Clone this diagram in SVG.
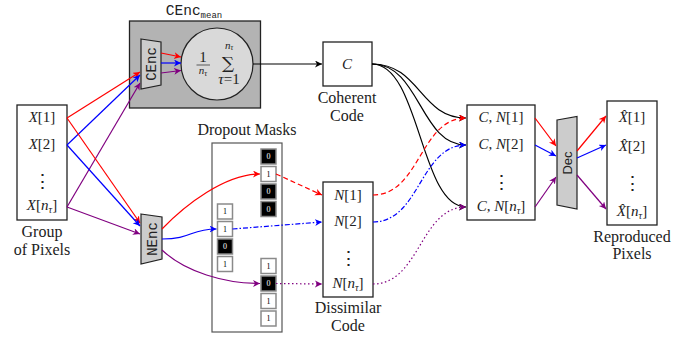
<svg xmlns="http://www.w3.org/2000/svg" width="697" height="339" viewBox="0 0 697 339">
<defs>
<style>
.box{fill:#fff;stroke:#222;stroke-width:1.3}
.t{font-family:"Liberation Serif","DejaVu Serif",serif;font-size:15px;text-anchor:middle;fill:#222}
.lb{font-size:16px}
.it{font-style:italic}
.sub{font-style:italic;font-size:10px}
.mono{font-family:"Liberation Mono","DejaVu Sans Mono",monospace;text-anchor:middle;fill:#222}
.ln{fill:none;stroke-width:1.2}
.r{stroke:#f00}.b{stroke:#00f}.p{stroke:#800080}.k{stroke:#000}
.dash{stroke-dasharray:5 3}
.dashdot{stroke-dasharray:5 2 1.5 2}
.dot{stroke-dasharray:1.5 2.5}
.c1{fill:#fff;stroke:#8a8a8a;stroke-width:1.5}
.c0{fill:#000;stroke:#8a8a8a;stroke-width:1.5}
.ct1{font-family:"Liberation Serif",serif;font-size:8px;text-anchor:middle;fill:#000}
.ct0{font-family:"Liberation Serif",serif;font-size:8px;text-anchor:middle;fill:#fff}
.trap{fill:#ccc;stroke:#222;stroke-width:1.2}
.dots{font-family:"DejaVu Serif",serif;font-size:19px;text-anchor:middle;fill:#222}
</style>
<marker id="ar" markerWidth="8" markerHeight="8" refX="7" refY="3.5" orient="auto" markerUnits="userSpaceOnUse"><path d="M0,0 L7,3.5 L0,7 L2,3.5 z" fill="#f00"/></marker>
<marker id="ab" markerWidth="8" markerHeight="8" refX="7" refY="3.5" orient="auto" markerUnits="userSpaceOnUse"><path d="M0,0 L7,3.5 L0,7 L2,3.5 z" fill="#00f"/></marker>
<marker id="ap" markerWidth="8" markerHeight="8" refX="7" refY="3.5" orient="auto" markerUnits="userSpaceOnUse"><path d="M0,0 L7,3.5 L0,7 L2,3.5 z" fill="#800080"/></marker>
<marker id="ak" markerWidth="8" markerHeight="8" refX="7" refY="3.5" orient="auto" markerUnits="userSpaceOnUse"><path d="M0,0 L7,3.5 L0,7 L2,3.5 z" fill="#000"/></marker>
</defs>
<rect width="697" height="339" fill="#fff"/>

<g id="group-of-pixels">
<rect class="box" x="17" y="105" width="50" height="115"/>
<text class="t" x="42" y="122"><tspan class="it">X</tspan>[1]</text>
<text class="t" x="42" y="149"><tspan class="it">X</tspan>[2]</text>
<text class="dots" x="42" y="188">⋮</text>
<text class="t" x="42" y="210"><tspan class="it">X</tspan>[<tspan class="it">n</tspan><tspan class="sub" dy="3">τ</tspan><tspan dy="-3">]</tspan></text>
<text class="t lb" x="42" y="237">Group</text>
<text class="t lb" x="42" y="255">of Pixels</text>
</g>

<g id="cenc-mean">
<rect x="129.5" y="21" width="131" height="87" fill="#b3b3b3" stroke="#222" stroke-width="1.3"/>
<text class="mono" x="194" y="15" font-size="14.5">CEnc<tspan font-size="9" dy="3">mean</tspan></text>
<polygon class="trap" points="141,39 161,42 161,85 141,89"/>
<text class="mono" font-size="14" transform="translate(155.5,64) rotate(-90)">CEnc</text>
<circle cx="217" cy="64" r="36" fill="#d9d9d9" stroke="#222" stroke-width="1.2"/>
<text class="t" x="203" y="62" font-size="11">1</text>
<line x1="196.5" y1="65" x2="210" y2="65" stroke="#222" stroke-width="0.7"/>
<text class="t" x="203" y="74"><tspan class="it" font-size="11">n</tspan><tspan class="it" font-size="8" dy="2">τ</tspan></text>
<text x="228" y="69" font-family="DejaVu Serif, serif" font-size="17" text-anchor="middle" fill="#222">∑</text>
<text class="t" x="229" y="48.5"><tspan class="it" font-size="11">n</tspan><tspan class="it" font-size="7.5" dy="1.5">τ</tspan></text>
<text class="t" x="229" y="84" font-size="11"><tspan class="it">τ</tspan>=1</text>
</g>

<g id="nenc">
<polygon class="trap" points="141,214 162,217 162,259 141,264"/>
<text class="mono" font-size="14" transform="translate(156.5,239) rotate(-90)">NEnc</text>
</g>

<g id="coherent-code">
<rect class="box" x="323" y="42" width="49" height="44"/>
<text class="t it" x="347" y="69" font-size="16">C</text>
<text class="t lb" x="347" y="103">Coherent</text>
<text class="t lb" x="347" y="121">Code</text>
</g>

<g id="dropout-masks">
<rect x="212" y="143" width="70" height="189" fill="#fff" stroke="#555" stroke-width="1.2"/>
<text class="t lb" x="247" y="135">Dropout Masks</text>
<rect class="c1" x="217.5" y="204" width="15" height="15"/><text class="ct1" x="225" y="214">1</text>
<rect class="c1" x="217.5" y="221.5" width="15" height="15"/><text class="ct1" x="225" y="231.5">1</text>
<rect class="c0" x="217.5" y="239" width="15" height="15"/><text class="ct0" x="225" y="249">0</text>
<rect class="c1" x="217.5" y="256.5" width="15" height="15"/><text class="ct1" x="225" y="266.5">1</text>
<rect class="c0" x="261" y="149" width="15" height="15"/><text class="ct0" x="268.5" y="159">0</text>
<rect class="c1" x="261" y="166.5" width="15" height="15"/><text class="ct1" x="268.5" y="176.5">1</text>
<rect class="c0" x="261" y="184" width="15" height="15"/><text class="ct0" x="268.5" y="194">0</text>
<rect class="c0" x="261" y="201.5" width="15" height="15"/><text class="ct0" x="268.5" y="211.5">0</text>
<rect class="c1" x="261" y="258.5" width="15" height="15"/><text class="ct1" x="268.5" y="268.5">1</text>
<rect class="c0" x="261" y="276" width="15" height="15"/><text class="ct0" x="268.5" y="286">0</text>
<rect class="c1" x="261" y="293.5" width="15" height="15"/><text class="ct1" x="268.5" y="303.5">1</text>
<rect class="c1" x="261" y="311" width="15" height="15"/><text class="ct1" x="268.5" y="321">1</text>
</g>

<g id="dissimilar-code">
<rect class="box" x="323" y="182" width="50" height="115"/>
<text class="t" x="348" y="200"><tspan class="it">N</tspan>[1]</text>
<text class="t" x="348" y="226"><tspan class="it">N</tspan>[2]</text>
<text class="dots" x="348" y="265">⋮</text>
<text class="t" x="348" y="288"><tspan class="it">N</tspan>[<tspan class="it">n</tspan><tspan class="sub" dy="3">τ</tspan><tspan dy="-3">]</tspan></text>
<text class="t lb" x="348" y="313">Dissimilar</text>
<text class="t lb" x="348" y="331">Code</text>
</g>

<g id="combined-codes">
<rect class="box" x="467" y="105" width="68" height="115"/>
<text class="t" x="501" y="122"><tspan class="it">C</tspan>, <tspan class="it">N</tspan>[1]</text>
<text class="t" x="501" y="149"><tspan class="it">C</tspan>, <tspan class="it">N</tspan>[2]</text>
<text class="dots" x="501" y="189">⋮</text>
<text class="t" x="501" y="211"><tspan class="it">C</tspan>, <tspan class="it">N</tspan>[<tspan class="it">n</tspan><tspan class="sub" dy="3">τ</tspan><tspan dy="-3">]</tspan></text>
</g>

<g id="dec">
<polygon class="trap" points="557,120 577,116.5 577,209 557,205"/>
<text font-family="Liberation Sans, sans-serif" font-size="13" text-anchor="middle" fill="#222" transform="translate(571.5,163) rotate(-90)">Dec</text>
</g>

<g id="reproduced-pixels">
<rect class="box" x="607" y="101" width="50" height="124"/>
<text class="t" x="632" y="122"><tspan class="it">X̂</tspan>[1]</text>
<text class="t" x="632" y="151"><tspan class="it">X̂</tspan>[2]</text>
<text class="dots" x="632" y="190">⋮</text>
<text class="t" x="632" y="216"><tspan class="it">X̂</tspan>[<tspan class="it">n</tspan><tspan class="sub" dy="3">τ</tspan><tspan dy="-3">]</tspan></text>
<text class="t lb" x="632" y="242">Reproduced</text>
<text class="t lb" x="632" y="259">Pixels</text>
</g>

<g id="connectors">
<line class="ln r" x1="67" y1="118" x2="140" y2="72" marker-end="url(#ar)"/>
<line class="ln b" x1="67" y1="145" x2="140" y2="75" marker-end="url(#ab)"/>
<line class="ln p" x1="67" y1="207" x2="140" y2="83" marker-end="url(#ap)"/>
<line class="ln r" x1="67" y1="118" x2="140" y2="223" marker-end="url(#ar)"/>
<line class="ln b" x1="67" y1="145" x2="140" y2="226" marker-end="url(#ab)"/>
<line class="ln p" x1="67" y1="207" x2="140" y2="234" marker-end="url(#ap)"/>
<line class="ln r" x1="161" y1="53" x2="181" y2="57" marker-end="url(#ar)"/>
<line class="ln b" x1="161" y1="63" x2="181" y2="63" marker-end="url(#ab)"/>
<line class="ln p" x1="161" y1="73" x2="181" y2="70.5" marker-end="url(#ap)"/>
<line class="ln k" x1="253" y1="64" x2="322" y2="64" marker-end="url(#ak)"/>
<path class="ln r" d="M162,229 C185,205 225,174 260,174" marker-end="url(#ar)"/>
<path class="ln b" d="M162,239 C192,239 190,229 216.5,229" marker-end="url(#ab)"/>
<path class="ln p" d="M162,250 C185,272 225,283.5 260,283.5" marker-end="url(#ap)"/>
<line class="ln r dash" x1="276" y1="174" x2="322" y2="195" marker-end="url(#ar)"/>
<line class="ln b dashdot" x1="232.5" y1="229" x2="322" y2="222" marker-end="url(#ab)"/>
<line class="ln p dot" x1="276" y1="283.5" x2="322" y2="284" marker-end="url(#ap)"/>
<path class="ln k" d="M372,64 C420,64 420,118 466,118" marker-end="url(#ak)"/>
<path class="ln k" d="M372,64 C420,64 420,145 466,145" marker-end="url(#ak)"/>
<path class="ln k" d="M372,64 C420,64 420,207 466,207" marker-end="url(#ak)"/>
<path class="ln r dash" d="M373,195 C420,195 420,118 466,118" marker-end="url(#ar)"/>
<path class="ln b dashdot" d="M373,222 C420,222 420,145 466,145" marker-end="url(#ab)"/>
<path class="ln p dot" d="M373,284 C420,284 420,207 466,207" marker-end="url(#ap)"/>
<line class="ln r" x1="535" y1="118" x2="556" y2="146" marker-end="url(#ar)"/>
<line class="ln b" x1="535" y1="145" x2="556" y2="156" marker-end="url(#ab)"/>
<line class="ln p" x1="535" y1="207" x2="556" y2="177" marker-end="url(#ap)"/>
<line class="ln r" x1="577" y1="151" x2="606" y2="116" marker-end="url(#ar)"/>
<line class="ln b" x1="577" y1="158" x2="606" y2="145" marker-end="url(#ab)"/>
<line class="ln p" x1="577" y1="175" x2="606" y2="209" marker-end="url(#ap)"/>
</g>
</svg>
